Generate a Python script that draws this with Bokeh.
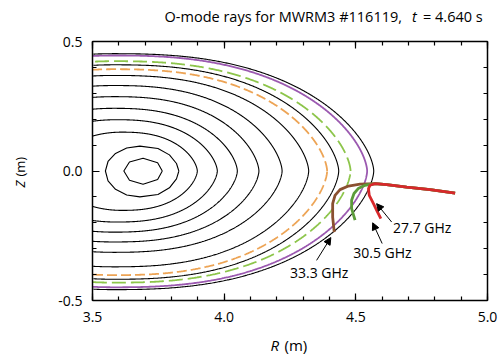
import numpy as np
from bokeh.plotting import figure
from bokeh.models import (FixedTicker, PrintfTickFormatter, CustomJSTickFormatter,
                          LinearAxis, Label, Arrow, NormalHead, Range1d)
from bokeh.embed import file_html
from bokeh.resources import INLINE

# ---------------- data ----------------
x_major_ticks = [3.5, 4.0, 4.5, 5.0]
x_minor_ticks = [3.5, 3.6, 3.7, 3.8, 3.9, 4.0, 4.1, 4.2, 4.3, 4.4, 4.5, 4.6, 4.7, 4.8, 4.9, 5.0]
y_major_ticks = [-0.5, 0.0, 0.5]
y_minor_ticks = [-0.5, -0.4, -0.3, -0.2, -0.1, 0.0, 0.1, 0.2, 0.3, 0.4, 0.5]

# flux surfaces: kind, R of top/bottom apex, inner & outer midplane R, top & bottom Z (m)
surface_kind = ["flux"] * 8 + ["cutoff_33.3", "flux", "cutoff_30.5", "cutoff_27.7", "flux"]
surface_r_apex = [3.692, 3.680, 3.610, 3.590, 3.580, 3.580, 3.580, 3.580, 3.580, 3.580, 3.580, 3.580, 3.580]
surface_r_inner = [3.619, 3.549, 3.360, 3.220, 3.100, 3.000, 2.920, 2.850, 2.800, 2.780, 2.760, 2.720, 2.700]
surface_r_outer = [3.765, 3.828, 3.898, 3.974, 4.050, 4.132, 4.220, 4.321, 4.391, 4.435, 4.480, 4.543, 4.568]
surface_z_top = [0.049, 0.096, 0.150, 0.198, 0.242, 0.287, 0.330, 0.369, 0.393, 0.410, 0.424, 0.446, 0.453]
surface_z_bottom = [-0.051, -0.100, -0.152, -0.197, -0.236, -0.274, -0.314, -0.370, -0.402, -0.418, -0.431, -0.449, -0.458]

# rays (R, Z in m)
ray_labels = ["27.7 GHz", "30.5 GHz", "33.3 GHz"]
ray277_r = [4.877, 4.782, 4.693, 4.617, 4.573, 4.554, 4.548, 4.551, 4.567, 4.582, 4.595]
ray277_z = [-0.085, -0.072, -0.062, -0.053, -0.049, -0.055, -0.068, -0.094, -0.126, -0.158, -0.184]
ray305_r = [4.877, 4.782, 4.693, 4.617, 4.573, 4.535, 4.509, 4.493, 4.484, 4.484, 4.497]
ray305_z = [-0.085, -0.072, -0.062, -0.053, -0.049, -0.055, -0.068, -0.087, -0.113, -0.145, -0.190]
ray333_r = [4.877, 4.782, 4.693, 4.617, 4.573, 4.516, 4.472, 4.440, 4.421, 4.412, 4.412, 4.418]
ray333_z = [-0.085, -0.072, -0.062, -0.053, -0.049, -0.051, -0.058, -0.072, -0.094, -0.126, -0.178, -0.236]

# annotation anchors (m)
label_r = [4.641, 4.490, 4.250]
label_z = [-0.218, -0.316, -0.393]
arrow_tail_r = [4.636, 4.600, 4.351]
arrow_tail_z = [-0.197, -0.280, -0.345]
arrow_head_r = [4.579, 4.564, 4.405]
arrow_head_z = [-0.126, -0.200, -0.257]

# ---------------- layout geometry ----------------
CW, CH = 503, 356
BOX_L, BOX_R, BOX_T, BOX_B = 92.0, 487.0, 41.0, 300.0   # pixel box of the plot area
X0, X1, Y0, Y1 = 3.5, 5.0, -0.5, 0.5
sx = (BOX_R - BOX_L) / (X1 - X0)
sy = (BOX_B - BOX_T) / (Y1 - Y0)
def dx(px):
    return X0 + (px - BOX_L) / sx
def dy(py):
    return Y1 - (py - BOX_T) / sy

FONT = "Open Sans"
p = figure(width=CW, height=CH, output_backend="svg", toolbar_location=None,
           x_range=Range1d(dx(0), dx(CW)), y_range=Range1d(dy(CH), dy(0)),
           x_axis_location=None, y_axis_location=None,
           min_border=0, background_fill_color="white", border_fill_color="white")
p.grid.visible = False
p.outline_line_color = None

def make_axis(ticker, bounds, loc, show_labels, standoff):
    ax = LinearAxis(ticker=ticker, bounds=bounds, fixed_location=loc)
    ax.axis_line_width = 1.5
    ax.axis_line_color = "black"
    ax.major_tick_in = 7
    ax.major_tick_out = 0
    ax.minor_tick_in = 4
    ax.minor_tick_out = 0
    ax.major_tick_line_width = 1.2
    ax.minor_tick_line_width = 1.2
    ax.major_tick_line_color = "black"
    ax.minor_tick_line_color = "black"
    if show_labels:
        ax.formatter = PrintfTickFormatter(format="%.1f")
        ax.major_label_text_font = FONT
        ax.major_label_text_font_size = "14px"
        ax.major_label_text_color = "black"
        ax.major_label_standoff = standoff
    else:
        ax.formatter = CustomJSTickFormatter(code="return ''")
        ax.major_label_standoff = 0
    return ax

p.add_layout(make_axis(FixedTicker(ticks=x_major_ticks, minor_ticks=x_minor_ticks), (X0, X1), Y0, True, 11), "below")
p.add_layout(make_axis(FixedTicker(ticks=x_major_ticks, minor_ticks=x_minor_ticks), (X0, X1), Y1, False, 0), "above")
p.add_layout(make_axis(FixedTicker(ticks=y_major_ticks, minor_ticks=y_minor_ticks), (Y0, Y1), X0, True, 10), "left")
p.add_layout(make_axis(FixedTicker(ticks=y_major_ticks, minor_ticks=y_minor_ticks), (Y0, Y1), X1, False, 0), "right")

# ---------------- flux surfaces ----------------
styles = {
    "flux": dict(line_color="black", line_width=1.1, line_dash="solid"),
    "cutoff_33.3": dict(line_color="#EDA455", line_width=1.8, line_dash="10 4"),
    "cutoff_30.5": dict(line_color="#8DC54B", line_width=1.8, line_dash="14 5"),
    "cutoff_27.7": dict(line_color="#9B59B0", line_width=1.8, line_dash="solid"),
}
for i, kind in enumerate(surface_kind):
    n = 8 if i == 0 else (16 if i == 1 else 1440)
    th = np.linspace(0, 2 * np.pi, n + 1)
    c = np.cos(th)
    s = np.sin(th)
    right = c >= 0
    rc = surface_r_apex[i]
    a_out = surface_r_outer[i] - rc
    a_in = rc - surface_r_inner[i]
    r = np.where(right, rc + a_out * np.abs(c) ** 0.8, rc - a_in * np.abs(c))
    f = np.where(right, np.abs(s) ** 1.25, np.abs(s))
    z = np.where(s >= 0, surface_z_top[i] * f, surface_z_bottom[i] * f)
    r = np.where(r < X0, np.nan, r)   # clip to the plot box
    p.line(r, z, **styles[kind])

# ---------------- rays ----------------
p.line(ray333_r, ray333_z, line_color="#8A5030", line_width=2.8)
p.line(ray305_r, ray305_z, line_color="#5C9C3A", line_width=2.8)
p.line(ray277_r, ray277_z, line_color="#D7282B", line_width=2.8)

TXT = dict(text_font=FONT, text_color="black", text_baseline="middle")
for i, txt in enumerate(ray_labels):
    p.add_layout(Label(x=label_r[i], y=label_z[i], text=txt, text_font_size="14px",
                       text_align="left", **TXT))
    p.add_layout(Arrow(x_start=arrow_tail_r[i], y_start=arrow_tail_z[i],
                       x_end=arrow_head_r[i], y_end=arrow_head_z[i],
                       line_width=1, line_color="black",
                       end=NormalHead(size=7, line_color="black", fill_color="black", line_width=1)))

# ---------------- title & axis labels ----------------
ty = dy(15.7)
p.add_layout(Label(x=dx(401.5), y=ty, text="O-mode rays for MWRM3 #116119,",
                   text_font_size="14.5px", text_align="right", **TXT))
p.add_layout(Label(x=dx(411.5), y=ty, text="t", text_font_style="italic",
                   text_font_size="14.5px", text_align="left", **TXT))
p.add_layout(Label(x=dx(422.5), y=ty, text="= 4.640 s",
                   text_font_size="14.5px", text_align="left", **TXT))

p.add_layout(Label(x=dx(270), y=dy(344.5), text="R", text_font_style="italic",
                   text_font_size="15px", text_align="left", **TXT))
p.add_layout(Label(x=dx(284), y=dy(344.5), text="(m)",
                   text_font_size="15px", text_align="left", **TXT))

p.add_layout(Label(x=dx(19.2), y=dy(187), text="Z", text_font_style="italic",
                   text_font_size="13px", text_align="left", angle=np.pi / 2, **TXT))
p.add_layout(Label(x=dx(19.2), y=dy(176), text="(m)",
                   text_font_size="13px", text_align="left", angle=np.pi / 2, **TXT))

open("out.html", "w").write(file_html(p, INLINE))
